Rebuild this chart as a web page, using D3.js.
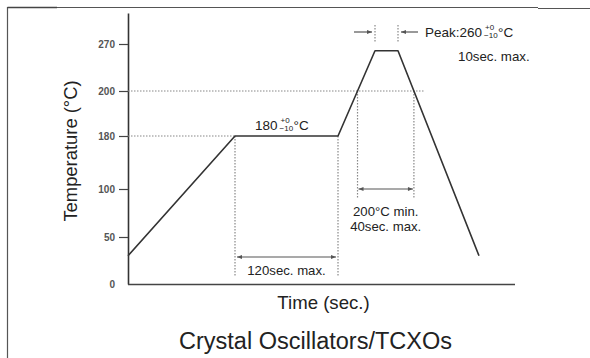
<!DOCTYPE html>
<html>
<head>
<meta charset="utf-8">
<script src="https://cdn.jsdelivr.net/npm/d3@7"></script>
<style>
  html, body { margin: 0; padding: 0; background: #fff; }
  svg { display: block; font-family: "Liberation Sans", Arial, sans-serif; }
</style>
</head>
<body>
<svg id="chart" width="590" height="358"></svg>
<script>
// Reflow temperature profile (schematic, not to scale)
const tempTicks = [0, 50, 100, 180, 200, 270];
// profile vertices: schematic time position and temperature (°C)
const profileTime = [0, 107, 210, 247, 270, 351];
const profileTemp = [30, 180, 180, 260, 260, 30];
const soakTemp = 180;
const reflowTemp = 200;
const soakLabel = "120sec. max.";
const reflowLabels = ["200°C min.", "40sec. max."];
const peakLabel = "Peak:260";
const peakTimeLabel = "10sec. max.";
const title = "Crystal Oscillators/TCXOs";

const svg = d3.select("#chart");

// frame
svg.append("path").attr("d", "M7.5,358 V7.5 H538").attr("fill", "none").attr("stroke", "#555").attr("stroke-width", 1.2);
svg.append("path").attr("d", "M7.5,7.5 H57").attr("stroke", "#444").attr("stroke-width", 1.6);
svg.append("path").attr("d", "M538,8.5 H590").attr("stroke", "#555").attr("stroke-width", 1.2);

// the vertical axis is drawn in uneven segments
const y = d3.scaleLinear()
  .domain([0, 50, 100, 180, 200, 270, 300])
  .range([284, 237, 189, 136, 91, 44, 13]);
const x = d3.scaleLinear().domain([0, 387]).range([128, 515]);

// y axis
const yAxis = d3.axisLeft(y).tickValues(tempTicks).tickSize(9).tickSizeOuter(0).tickPadding(4);
const gy = svg.append("g").attr("transform", "translate(128,0)").call(yAxis);
gy.select(".domain").attr("stroke", "#333").attr("stroke-width", 1.6);
gy.selectAll(".tick line").attr("stroke", "#444").attr("stroke-width", 1.2)
  .attr("x2", d => d === 0 ? 0 : -9);
gy.selectAll(".tick text").attr("fill", "#555").attr("font-size", 10).attr("font-weight", "bold")
  .attr("font-family", "'Liberation Sans', Arial, sans-serif")
  .attr("x", d => d === 0 ? -13 : -13);

// x axis baseline
svg.append("line").attr("x1", x(0)).attr("x2", x(387)).attr("y1", y(0) + 0.5).attr("y2", y(0) + 0.5)
  .attr("stroke", "#444").attr("stroke-width", 1.6);

const pts = profileTime.map((t, i) => [x(t), y(profileTemp[i])]);

// time at which a profile segment crosses a temperature
function crossing(i, temp) {
  const t0 = profileTime[i], t1 = profileTime[i + 1];
  const y0 = y(profileTemp[i]), y1 = y(profileTemp[i + 1]), yy = y(temp);
  return x(t0) + (yy - y0) / (y1 - y0) * (x(t1) - x(t0));
}
const xr1 = crossing(2, reflowTemp);
const xr2 = crossing(4, reflowTemp);
const xs1 = x(profileTime[1]), xs2 = x(profileTime[2]);
const xp1 = x(profileTime[3]), xp2 = x(profileTime[4]);

const dotted = (x1, y1, x2, y2) => svg.append("line")
  .attr("x1", x1).attr("y1", y1).attr("x2", x2).attr("y2", y2)
  .attr("stroke", "#888").attr("stroke-width", 1.2).attr("stroke-dasharray", "1.5,1.5");

// guide lines
dotted(x(0), y(reflowTemp), xr2 + 10, y(reflowTemp));
dotted(x(0), y(soakTemp), xs1, y(soakTemp));
dotted(xs1, y(soakTemp), xs1, 276);
dotted(xs2, y(soakTemp), xs2, 276);
dotted(xr1, y(reflowTemp), xr1, 198);
dotted(xr2, y(reflowTemp), xr2, 198);
dotted(xp1, 25, xp1, 42);
dotted(xp2, 25, xp2, 42);

// profile
svg.append("path").attr("d", d3.line()(pts)).attr("fill", "none")
  .attr("stroke", "#333").attr("stroke-width", 1.6).attr("stroke-linejoin", "round");

// arrows
const defs = svg.append("defs");
defs.append("marker").attr("id", "ah").attr("viewBox", "0 0 10 10").attr("refX", 10).attr("refY", 5)
  .attr("markerWidth", 6).attr("markerHeight", 5).attr("orient", "auto-start-reverse")
  .attr("markerUnits", "userSpaceOnUse")
  .append("path").attr("d", "M0,1 L10,5 L0,9 Z").attr("fill", "#555");
const arrow = (x1, x2, yy, both) => {
  const l = svg.append("line").attr("x1", x1).attr("x2", x2).attr("y1", yy).attr("y2", yy)
    .attr("stroke", "#555").attr("stroke-width", 1.2).attr("marker-end", "url(#ah)");
  if (both) l.attr("marker-start", "url(#ah)");
};
arrow(xs1 + 2, xs2 - 2, 257, true);
arrow(xr1 + 1, xr2 - 1, 189, true);
arrow(xp1 - 21, xp1 - 3, 32, false);
arrow(xp2 + 20, xp2 + 3, 32, false);

// text helpers
const text = (s, xx, yy, size, anchor) => svg.append("text").attr("x", xx).attr("y", yy)
  .attr("font-size", size).attr("fill", "#222").attr("text-anchor", anchor || "start").text(s);

function tolerance(label, xx, yy) {
  const t = text(label, xx, yy, 13.5);
  const w = t.node().getComputedTextLength();
  text("+0", xx + w + 3, yy - 6.5, 8);
  text("\u221210", xx + w + 2, yy + 1.5, 8);
  text("°C", xx + w + 16, yy, 13.5);
}
tolerance(String(soakTemp) + " ", 255, 129.5);
tolerance(peakLabel + " ", 425, 36.5);

text(peakTimeLabel, 458, 60.5, 13.3);
text(soakLabel, (xs1 + xs2) / 2, 274.5, 13.2, "middle");
text(reflowLabels[0], (xr1 + xr2) / 2, 215.5, 13.2, "middle");
text(reflowLabels[1], (xr1 + xr2) / 2, 231, 13.2, "middle");

// axis titles and caption
svg.append("text").attr("transform", "translate(77,151) rotate(-90)").attr("text-anchor", "middle")
  .attr("font-size", 18.4).attr("fill", "#222").text("Temperature (°C)");
text("Time (sec.)", 323.5, 309, 18.6, "middle");
text(title, 315.5, 349, 23.5, "middle");
</script>
</body>
</html>
